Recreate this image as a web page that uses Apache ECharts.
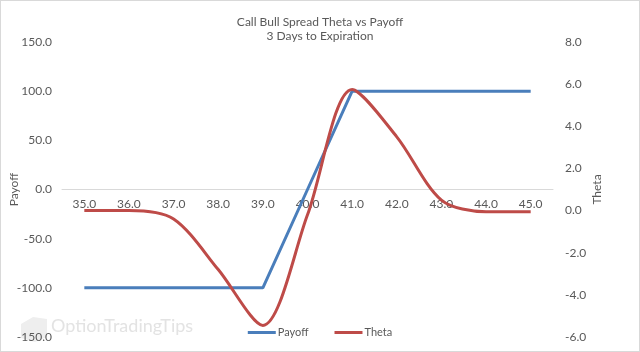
<!DOCTYPE html>
<html>
<head>
<meta charset="utf-8">
<script src="https://cdn.jsdelivr.net/npm/echarts@6/dist/echarts.min.js"></script>
<style>
  html, body { margin: 0; padding: 0; background: #fff; }
  #chart { width: 638px; height: 350px; border: 1px solid #d9d9d9; }
</style>
</head>
<body>
<div id="chart"></div>
<script>
// strike prices on the x axis
const strikes = ['35.0', '36.0', '37.0', '38.0', '39.0', '40.0', '41.0', '42.0', '43.0', '44.0', '45.0']
const payoff = [-100, -100, -100, -100, -100, 0, 100, 100, 100, 100, 100]
const theta = [0.0, 0.0, -0.4, -2.8, -5.45, -0.2, 5.75, 3.5, 0.5, -0.05, -0.05]

const textColor = '#595959'
const font = 'Lato'

const chart = echarts.init(document.getElementById('chart'))

// grid spans 41..337, so y=0 on the left axis sits halfway
const gridTop = 41
const gridBottom = 14
const gridHeight = 350 - gridTop - gridBottom

chart.setOption({
  animation: false,
  textStyle: { fontFamily: font },
  title: {
    text: 'Call Bull Spread Theta vs Payoff',
    subtext: '3 Days to Expiration',
    left: 'center',
    top: 10,
    itemGap: 2,
    textStyle: { fontSize: 12, fontWeight: 'normal', color: textColor, fontFamily: font },
    subtextStyle: { fontSize: 12, color: textColor, fontFamily: font }
  },
  legend: {
    bottom: 8,
    left: 'center',
    itemWidth: 28,
    itemHeight: 3,
    itemGap: 26,
    icon: 'rect',
    textStyle: { fontSize: 11, color: textColor, padding: [0, 0, 0, -3] },
    data: ['Payoff', 'Theta']
  },
  grid: { left: 61, right: 86, top: gridTop, bottom: gridBottom, outerBoundsMode: 'none' },
  xAxis: {
    type: 'category',
    data: strikes,
    boundaryGap: true,
    position: 'bottom',
    offset: -gridHeight / 2,
    axisLine: { onZero: false, lineStyle: { color: '#d9d9d9', width: 1 } },
    axisTick: { show: false },
    axisLabel: { color: textColor, fontSize: 12, margin: 9 },
    splitLine: { show: false }
  },
  yAxis: [
    {
      type: 'value',
      min: -150,
      max: 150,
      interval: 50,
      name: 'Payoff',
      nameLocation: 'middle',
      nameRotate: 90,
      nameGap: 42,
      nameMoveOverlap: false,
      nameTextStyle: { fontSize: 12, color: textColor },
      axisLine: { show: false },
      axisTick: { show: false },
      splitLine: { show: false },
      axisLabel: { color: textColor, fontSize: 12, margin: 10, formatter: v => v.toFixed(1) }
    },
    {
      type: 'value',
      min: -6,
      max: 8,
      interval: 2,
      name: 'Theta',
      nameLocation: 'middle',
      nameRotate: 90,
      nameGap: 38,
      nameMoveOverlap: false,
      nameTextStyle: { fontSize: 12, color: textColor },
      axisLine: { show: false },
      axisTick: { show: false },
      splitLine: { show: false },
      axisLabel: { color: textColor, fontSize: 12, margin: 12, formatter: v => v.toFixed(1) }
    }
  ],
  graphic: [
    {
      type: 'polygon',
      silent: true,
      shape: { points: [[20, 323], [32, 316], [46, 318], [46, 336], [34, 341], [20, 337]] },
      style: { fill: '#eeeeee' }
    },
    {
      type: 'text',
      left: 50,
      top: 316,
      silent: true,
      style: { text: 'OptionTradingTips', fontSize: 18, fontFamily: font, fill: '#e3e3e3' }
    }
  ],
  series: [
    {
      name: 'Payoff',
      type: 'line',
      yAxisIndex: 0,
      data: payoff,
      symbol: 'none',
      lineStyle: { color: '#4a7ebb', width: 3 },
      itemStyle: { color: '#4a7ebb' }
    },
    {
      name: 'Theta',
      type: 'line',
      yAxisIndex: 1,
      data: theta,
      smooth: 0.3,
      symbol: 'none',
      lineStyle: { color: '#be4b48', width: 3 },
      itemStyle: { color: '#be4b48' }
    }
  ]
})
</script>
</body>
</html>
